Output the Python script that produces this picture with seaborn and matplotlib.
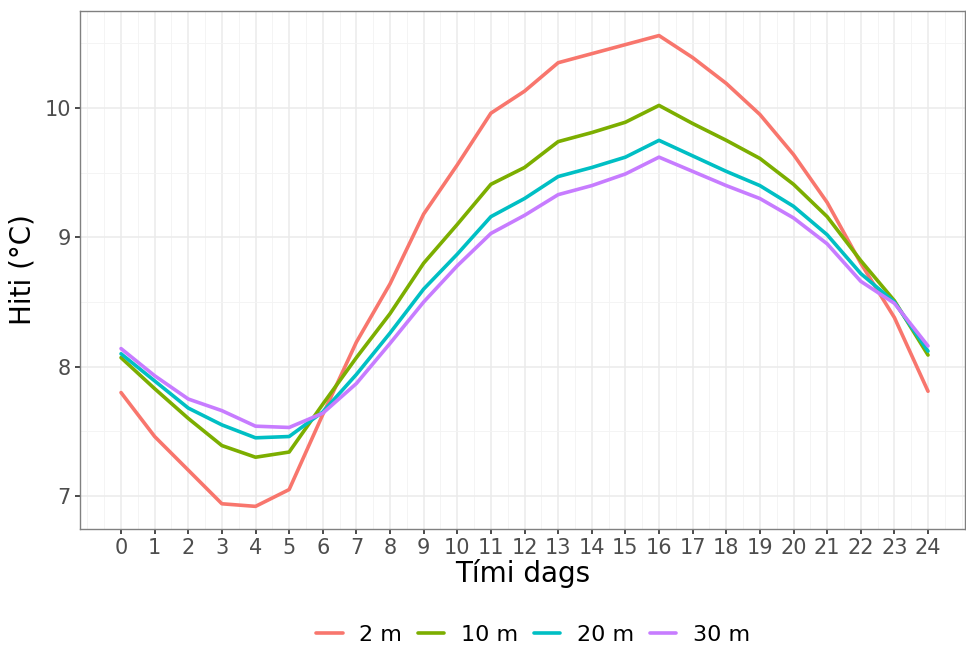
import numpy as np
import pandas as pd
import seaborn as sns
import matplotlib
matplotlib.use("Agg")
import matplotlib.pyplot as plt
from matplotlib.ticker import MultipleLocator

hours = list(range(25))
depths = ["2 m", "10 m", "20 m", "30 m"]
t_2m = [7.80, 7.46, 7.20, 6.94, 6.92, 7.05, 7.63, 8.19, 8.64, 9.18, 9.56, 9.96, 10.13,
        10.35, 10.42, 10.49, 10.56, 10.39, 10.19, 9.95, 9.64, 9.27, 8.80, 8.38, 7.81]
t_10m = [8.07, 7.83, 7.60, 7.39, 7.30, 7.34, 7.71, 8.07, 8.41, 8.80, 9.10, 9.41, 9.54,
         9.74, 9.81, 9.89, 10.02, 9.88, 9.75, 9.61, 9.41, 9.16, 8.82, 8.51, 8.09]
t_20m = [8.10, 7.89, 7.68, 7.55, 7.45, 7.46, 7.65, 7.94, 8.26, 8.60, 8.87, 9.16, 9.30,
         9.47, 9.54, 9.62, 9.75, 9.63, 9.51, 9.40, 9.24, 9.02, 8.72, 8.50, 8.12]
t_30m = [8.14, 7.93, 7.75, 7.66, 7.54, 7.53, 7.64, 7.87, 8.18, 8.50, 8.78, 9.03, 9.17,
         9.33, 9.40, 9.49, 9.62, 9.51, 9.40, 9.30, 9.15, 8.95, 8.66, 8.49, 8.16]

series = {"2 m": t_2m, "10 m": t_10m, "20 m": t_20m, "30 m": t_30m}
df = pd.DataFrame([
    {"hour": h, "temp": v, "depth": d}
    for d in depths for h, v in zip(hours, series[d])
])

palette = ["#F8766D", "#7CAE00", "#00BFC4", "#C77CFF"]

sns.set_theme(style="white")
plt.rcParams['font.family'] = ['DejaVu Sans']

fig = plt.figure(figsize=(9.66, 6.47), dpi=100)
ax = fig.add_axes([80/966, 1 - 529/647, (965-80)/966, (529-11)/647])

sns.lineplot(data=df, x="hour", y="temp", hue="depth", hue_order=depths,
             palette=palette, linewidth=2.6, ax=ax, legend=True)

ax.set_xlim(-1.22, 25.1)
ax.set_ylim(6.745, 10.75)
ax.set_xticks(hours)
ax.set_xticklabels([str(h) for h in hours])
ax.xaxis.set_minor_locator(MultipleLocator(0.5))
ax.set_yticks([7, 8, 9, 10])
ax.yaxis.set_minor_locator(MultipleLocator(0.5))
ax.grid(which="major", color="#EBEBEB", linewidth=1.1)
ax.grid(which="minor", color="#F3F3F3", linewidth=0.6)
ax.set_axisbelow(True)
for s in ax.spines.values():
    s.set_color("#808080")
    s.set_linewidth(1.0)
ax.tick_params(axis="both", which="major", length=3.5, color="#333333",
               labelsize=15, labelcolor="#4D4D4D", pad=3, bottom=True, left=True)
ax.tick_params(axis="both", which="minor", length=0)
ax.set_xlabel("Tími dags", fontsize=20, color="black", labelpad=1)
ax.set_ylabel("Hiti (°C)", fontsize=20, color="black", labelpad=6)

handles, labels = ax.get_legend_handles_labels()
leg = ax.legend(handles, labels, loc="center", bbox_to_anchor=(0.512, -0.205), ncol=4,
                frameon=False, fontsize=16, handlelength=1.2, columnspacing=0.7,
                handletextpad=0.75)
for t in leg.get_texts():
    t.set_color("black")

fig.savefig("out.png", dpi=100)
